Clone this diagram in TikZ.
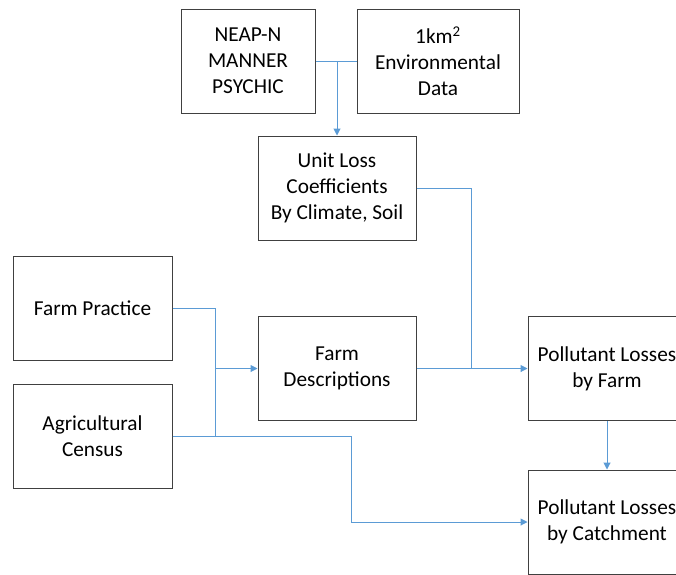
\documentclass[tikz,border=0pt]{standalone}
\usepackage{fontspec}
\setmainfont{Carlito}
\usetikzlibrary{arrows.meta}
\definecolor{linkblue}{RGB}{91,155,213}
\definecolor{boxgray}{RGB}{64,64,64}
\begin{document}
\begin{tikzpicture}[x=1pt,y=-1pt,
 box/.style={draw=boxgray, line width=1pt, minimum width=158pt, minimum height=104pt, inner sep=0pt, align=center, font=\fontsize{21.3}{26}\selectfont, text=black},
 link/.style={draw=linkblue, line width=1pt},
 arr/.style={link, -{Triangle[length=7pt,width=7pt]}}]
\useasboundingbox (0,0) rectangle (676,574);
\clip (0,0) rectangle (676,574);
\node[box, minimum width=134pt] (neap) at (248,61) {NEAP-N\\MANNER\\PSYCHIC};
\node[box, minimum width=162pt] (env) at (438,61) {1km\textsuperscript{2}\\Environmental\\Data};
\node[box] (unit) at (337,188) {Unit Loss\\Coefficients\\By Climate, Soil};
\node[box, minimum width=159pt] (fp) at (92.5,308) {Farm Practice};
\node[box, minimum width=159pt] (ac) at (92.5,436) {Agricultural\\Census};
\node[box] (fd) at (337,368.5) {Farm\\Descriptions};
\node[box, minimum width=158pt] (pf) at (607,368.5) {Pollutant Losses\\by Farm};
\node[box, minimum width=158pt] (pc) at (607,522) {Pollutant Losses\\by Catchment};
\coordinate (j1) at (337,61);
\coordinate (j2) at (471,368.5);
\coordinate (j3) at (215,436);
\coordinate (j4) at (351,522);
\draw[link] (neap.east) -- (env.west);
\draw[arr] (j1) -- (unit.north);
\draw[link] (unit.east) -| (j2);
\draw[arr] (fd.east) -- (pf.west);
\draw[link] (fp.east) -| (j3);
\draw[link] (ac.east) -- (j3);
\draw[arr] (fd.west -| j3) -- (fd.west);
\draw[arr] (ac.east) -| (j4) -- (pc.west);
\draw[arr] (pf.south) -- (pc.north);
\end{tikzpicture}
\end{document}
